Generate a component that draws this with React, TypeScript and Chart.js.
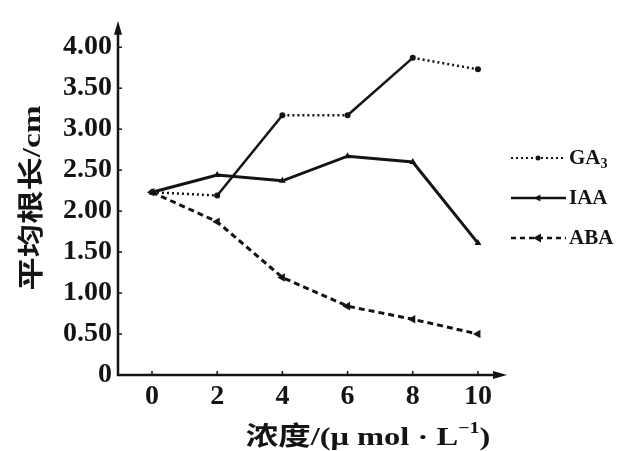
import { useEffect, useRef } from 'react';
import { Chart, registerables } from 'chart.js';

Chart.register(...registerables);

const concentrations = [0, 2, 4, 6, 8, 10];
const ga3Values = [2.23, 2.19, 3.17, 3.17, 3.87, 3.73];
const iaaValues = [2.23, 2.44, 2.37, 2.67, 2.6, 1.61];
const abaValues = [2.23, 1.87, 1.19, 0.84, 0.68, 0.5];
const xTicks = [0, 2, 4, 6, 8, 10];
const yTicks = [0, 0.5, 1, 1.5, 2, 2.5, 3, 3.5, 4];
const yTickLabels = ['0', '0.50', '1.00', '1.50', '2.00', '2.50', '3.00', '3.50', '4.00'];
const seriesNames = ['GA', 'IAA', 'ABA'];
const yTitle = '平均根长/cm';
const xTitle = '浓度/(μ mol · L';

const INK = '#141414';
const SERIF = '"Liberation Serif", "DejaVu Serif", "Noto Sans CJK SC", serif';

const toPoints = (vals: number[]) => concentrations.map((x, i) => ({ x, y: vals[i] }));

function drawMarker(ctx: CanvasRenderingContext2D, style: string, r: number, rot: number, x: number, y: number) {
  ctx.save();
  ctx.translate(x, y);
  ctx.rotate((rot * Math.PI) / 180);
  ctx.beginPath();
  if (style === 'circle') {
    ctx.arc(0, 0, r, 0, Math.PI * 2);
  } else {
    ctx.moveTo(0, -r);
    ctx.lineTo(r * 0.9, r * 0.6);
    ctx.lineTo(-r * 0.9, r * 0.6);
    ctx.closePath();
  }
  ctx.fill();
  ctx.restore();
}

const decorPlugin = {
  id: 'decor',
  afterDraw(chart: any) {
    const ctx = chart.ctx as CanvasRenderingContext2D;
    const { left, right, top, bottom } = chart.chartArea;
    const xs = chart.scales.x;
    const ys = chart.scales.y;
    ctx.save();
    ctx.strokeStyle = INK;
    ctx.fillStyle = INK;
    ctx.lineWidth = 2.5;
    ctx.setLineDash([]);
    // axes
    ctx.beginPath();
    ctx.moveTo(left, top + 8);
    ctx.lineTo(left, bottom);
    ctx.lineTo(right - 8, bottom);
    ctx.stroke();
    // arrows
    ctx.beginPath();
    ctx.moveTo(left, top - 2);
    ctx.lineTo(left - 4, top + 12);
    ctx.lineTo(left + 4, top + 12);
    ctx.closePath();
    ctx.fill();
    ctx.beginPath();
    ctx.moveTo(right + 2, bottom);
    ctx.lineTo(right - 12, bottom - 4);
    ctx.lineTo(right - 12, bottom + 4);
    ctx.closePath();
    ctx.fill();
    // tick marks
    ctx.lineWidth = 1.5;
    yTicks.forEach((v) => {
      if (v === 0) return;
      const y = ys.getPixelForValue(v);
      ctx.beginPath();
      ctx.moveTo(left, y);
      ctx.lineTo(left + 4, y);
      ctx.stroke();
    });
    xTicks.forEach((v) => {
      const x = xs.getPixelForValue(v);
      ctx.beginPath();
      ctx.moveTo(x, bottom);
      ctx.lineTo(x, bottom - 4);
      ctx.stroke();
    });

    // y title (stretched along its length)
    ctx.save();
    ctx.translate(33, 198);
    ctx.rotate(-Math.PI / 2);
    ctx.scale(1.28, 1);
    ctx.font = `bold 26px ${SERIF}`;
    ctx.textAlign = 'center';
    ctx.textBaseline = 'middle';
    ctx.fillText(yTitle, 0, 0);
    ctx.restore();

    // x title (stretched horizontally)
    ctx.save();
    ctx.translate(368, 438);
    ctx.scale(1.25, 1);
    ctx.font = `bold 26px ${SERIF}`;
    ctx.textBaseline = 'middle';
    ctx.textAlign = 'left';
    const mainW = ctx.measureText(xTitle).width;
    ctx.font = `bold 16px ${SERIF}`;
    const supW = ctx.measureText('−1').width;
    ctx.font = `bold 26px ${SERIF}`;
    const closeW = ctx.measureText(')').width;
    const total = mainW + supW + closeW;
    let tx = -total / 2;
    ctx.fillText(xTitle, tx, 0);
    tx += mainW;
    ctx.font = `bold 16px ${SERIF}`;
    ctx.fillText('−1', tx, -9);
    tx += supW;
    ctx.font = `bold 26px ${SERIF}`;
    ctx.fillText(')', tx, 0);
    ctx.restore();

    // legend
    const legendY = [158, 198, 238];
    const dashes = [[2, 3], [], [5, 4]];
    const styles = ['circle', 'triangle', 'triangle'];
    const radii = [2.5, 4, 5];
    const rots = [0, -90, -90];
    chart.data.datasets.forEach((_ds: any, i: number) => {
      const y = legendY[i];
      ctx.strokeStyle = INK;
      ctx.lineWidth = i === 0 ? 2 : 2.5;
      ctx.setLineDash(dashes[i]);
      ctx.beginPath();
      ctx.moveTo(511, y);
      ctx.lineTo(566, y);
      ctx.stroke();
      ctx.setLineDash([]);
      ctx.fillStyle = INK;
      drawMarker(ctx, styles[i], radii[i], rots[i], 538, y);
      ctx.font = `bold 21px ${SERIF}`;
      ctx.textAlign = 'left';
      ctx.textBaseline = 'middle';
      ctx.fillText(seriesNames[i], 569, y + 1);
      if (i === 0) {
        const w = ctx.measureText(seriesNames[i]).width;
        ctx.font = `bold 14px ${SERIF}`;
        ctx.fillText('3', 569 + w, y + 6);
      }
    });
    ctx.restore();
  },
};

export default function App() {
  const ref = useRef<HTMLCanvasElement | null>(null);

  useEffect(() => {
    document.body.style.margin = '0';
    if (!ref.current) return;
    const chart = new Chart(ref.current, {
      type: 'line',
      data: {
        datasets: [
          {
            label: 'GA3',
            data: toPoints(ga3Values),
            borderColor: INK,
            backgroundColor: INK,
            borderWidth: 2.5,
            borderDash: [2, 3],
            segment: {
              borderDash: (c: any) => (c.p0DataIndex === 1 || c.p0DataIndex === 3 ? [] : [2, 3]),
            },
            pointStyle: 'circle',
            pointRadius: 3,
            pointBorderWidth: 0,
            tension: 0,
          },
          {
            label: 'IAA',
            data: toPoints(iaaValues),
            borderColor: INK,
            backgroundColor: INK,
            borderWidth: 3,
            pointStyle: 'triangle',
            pointRadius: 4,
            pointBorderWidth: 0,
            tension: 0,
          },
          {
            label: 'ABA',
            data: toPoints(abaValues),
            borderColor: INK,
            backgroundColor: INK,
            borderWidth: 3,
            borderDash: [6, 4],
            pointStyle: 'triangle',
            pointRotation: -90,
            pointRadius: 5,
            pointBorderWidth: 0,
            tension: 0,
          },
        ],
      },
      options: {
        animation: false,
        responsive: false,
        events: [],
        layout: { padding: { left: 0, right: 128, top: 15, bottom: 0 } },
        plugins: { legend: { display: false }, tooltip: { enabled: false } },
        scales: {
          x: {
            type: 'linear',
            min: -1.043,
            max: 10.83,
            grid: { display: false, drawTicks: false },
            border: { display: false },
            afterBuildTicks: (s: any) => {
              s.ticks = xTicks.map((v) => ({ value: v }));
            },
            afterFit: (s: any) => {
              s.height = 76;
            },
            ticks: {
              color: INK,
              padding: 5,
              maxRotation: 0,
              autoSkip: false,
              font: { family: SERIF, size: 28, weight: 'bold' },
              callback: (v: any) => String(v),
            },
          },
          y: {
            type: 'linear',
            min: 0,
            max: 4.298,
            grid: { display: false, drawTicks: false },
            border: { display: false },
            afterBuildTicks: (s: any) => {
              s.ticks = yTicks.map((v) => ({ value: v }));
            },
            afterFit: (s: any) => {
              s.width = 118;
            },
            ticks: {
              color: INK,
              padding: 6,
              autoSkip: false,
              font: { family: SERIF, size: 28, weight: 'bold' },
              callback: (v: any) => {
                const i = yTicks.indexOf(Number(v));
                return i >= 0 ? yTickLabels[i] : '';
              },
            },
          },
        },
      },
      plugins: [decorPlugin],
    } as any);
    return () => chart.destroy();
  }, []);

  return (
    <div style={{ width: 633, height: 451, background: '#fff' }}>
      <canvas ref={ref} width={633} height={451} style={{ display: 'block' }} />
    </div>
  );
}
